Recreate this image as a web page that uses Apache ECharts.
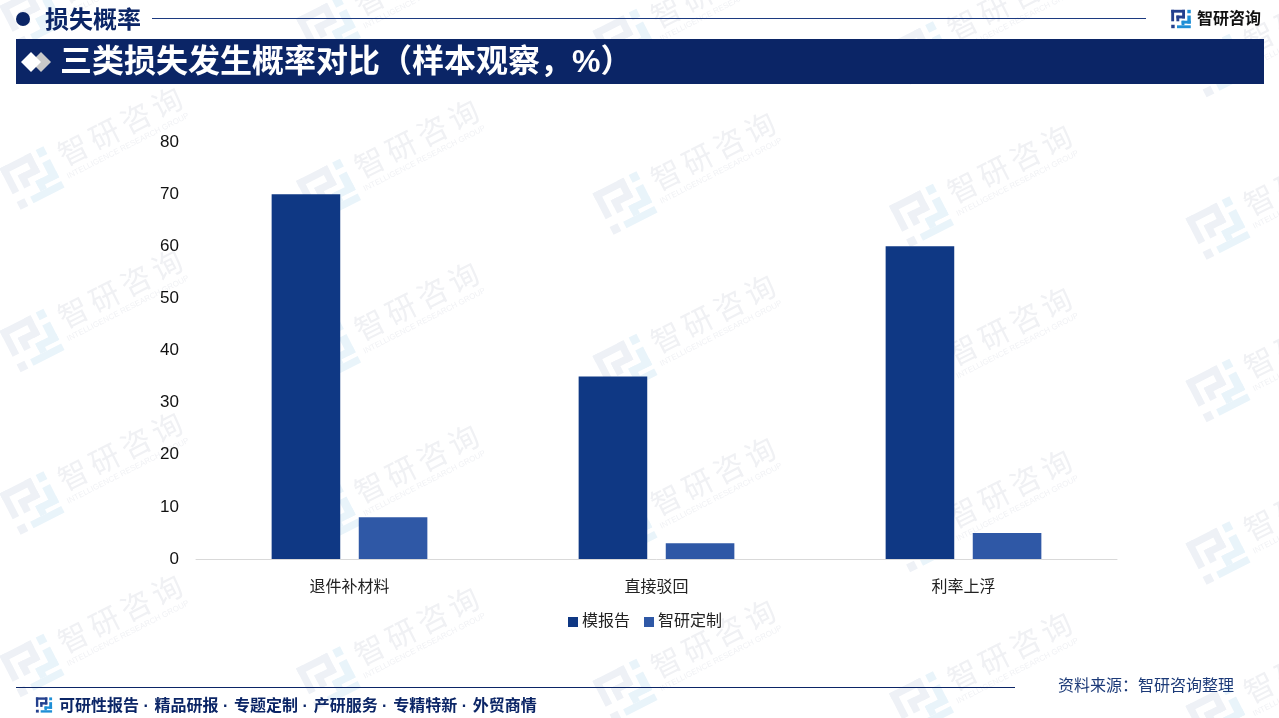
<!DOCTYPE html>
<html><head><meta charset="utf-8">
<style>html,body{margin:0;padding:0;background:#fff}#c{width:1279px;height:718px}</style>
<script src="https://cdn.jsdelivr.net/npm/echarts@6/dist/echarts.min.js"></script>
</head><body><div id="c"></div>
<script>
const categories = ['退件补材料','直接驳回','利率上浮'];
const seriesNames = ['模报告','智研定制'];
const mockReport = [70,35,60];
const customMade = [8,3,5];
const yTicks = {min:0,max:80,interval:10};
const FONT = '"Liberation Sans","Noto Sans CJK SC",sans-serif';
const NAVY='#0B2566';

function logo(cx,cy,s,rot,c1,c2){
  const r=(a,b,w,h,f)=>({type:'rect',shape:{x:(a-8.5)*s,y:(b-8)*s,width:w*s,height:h*s},style:{fill:f},silent:true});
  return {type:'group',x:cx,y:cy,rotation:rot,silent:true,children:[
    r(0,0,12,2.5,c1),r(0,0,2.5,10,c1),r(9.5,0,2.5,7.5,c1),r(4.5,5,7.5,2.5,c1),r(4.5,5,2.5,5,c1),r(0,13,3,3,c1),
    r(14,0,3,3,c2),r(14,5,3,7,c2),r(9,9.5,8,2.5,c2),r(9,9.5,2.5,4,c2),r(5,13.5,12,2.5,c2)
  ]};
}
const wm=[];
const rot=27*Math.PI/180;
for(let col=0;col<5;col++){
  for(let row=-1;row<4;row++){
    const cx=32+col*296.5, cy=178+col*12.5+row*162.5;
    wm.push(logo(cx,cy,2.9,rot,'#eef1f6','#e9f4fa'));
    ['智','研','咨','询'].forEach((ch,i)=>{
      const d=(i-1.5)*35;
      wm.push({type:'text',x:cx+88+d*Math.cos(rot),y:cy-52-d*Math.sin(rot),rotation:rot,silent:true,
        style:{text:ch,font:'30px "Noto Sans CJK SC"',fill:'#f0f1f4',align:'center',verticalAlign:'middle'}});
    });
    wm.push({type:'text',x:cx+96,y:cy-32,rotation:rot,silent:true,
      style:{text:'INTELLIGENCE RESEARCH GROUP',font:'8px "Liberation Sans"',fill:'#f1f2f5',align:'center',verticalAlign:'middle'}});
  }
}
const sep=' · \u200a';
const footerItems=['可研性报告','精品研报','专题定制','产研服务','专精特新','外贸商情'];
const header=[
  {type:'circle',shape:{cx:23,cy:19,r:7},style:{fill:NAVY}},
  {type:'text',x:45,y:21,style:{text:'损失概率',font:'bold 24px '+FONT,fill:NAVY,verticalAlign:'middle'}},
  {type:'rect',shape:{x:152,y:18,width:994,height:1},style:{fill:'#1c3a80'}},
  logo(1181,19,1.15,0,'#24408e','#1f8fd6'),
  {type:'text',x:1197,y:20,style:{text:'智研咨询',font:'bold 16px '+FONT,fill:'#111',verticalAlign:'middle'}},
  {type:'rect',shape:{x:16,y:39,width:1248,height:45},style:{fill:NAVY}},
  {type:'polygon',shape:{points:[[41,52],[51,62],[41,72],[31,62]]},style:{fill:'#c9c9c9'}},
  {type:'polygon',shape:{points:[[31,52],[41,62],[31,72],[21,62]]},style:{fill:'#fff'}},
  {type:'text',x:60,y:63,style:{text:'三类损失发生概率对比（样本观察，%）',font:'bold 32px '+FONT,fill:'#fff',verticalAlign:'middle'}},
  {type:'rect',shape:{x:16,y:687,width:999,height:1},style:{fill:NAVY}},
  logo(44,705,0.95,0,'#24408e','#1f8fd6'),
  {type:'text',x:59,y:707,style:{text:footerItems.join(sep),font:'bold 16px '+FONT,fill:NAVY,verticalAlign:'middle'}},
  {type:'text',x:1058,y:687,style:{text:'资料来源：智研咨询整理',font:'16px '+FONT,fill:'#1c3a78',verticalAlign:'middle'}}
];
const chart=echarts.init(document.getElementById('c'),null,{renderer:'canvas'});
chart.setOption({
  animation:false,backgroundColor:'#fff',
  textStyle:{fontFamily:FONT},
  grid:{left:196,right:162,top:142,bottom:159,containLabel:false},
  legend:{top:609,left:563,itemWidth:10,itemHeight:10,itemGap:14,icon:'rect',
    data:seriesNames,textStyle:{fontSize:16,color:'#222',fontFamily:FONT,padding:[0,0,0,-1]}},
  xAxis:{type:'category',data:categories,axisTick:{show:false},
    axisLine:{lineStyle:{color:'#d9d9d9',width:1}},
    axisLabel:{fontSize:16,color:'#222',margin:21,fontFamily:FONT}},
  yAxis:{type:'value',min:yTicks.min,max:yTicks.max,interval:yTicks.interval,
    axisLine:{show:false},axisTick:{show:false},splitLine:{show:false},
    axisLabel:{fontSize:17,color:'#111',margin:17,fontFamily:'"Liberation Sans",sans-serif'}},
  series:[
    {name:seriesNames[0],type:'bar',data:mockReport,barWidth:68.6,barGap:'27%',itemStyle:{color:'#0F3884'}},
    {name:seriesNames[1],type:'bar',data:customMade,barWidth:68.6,itemStyle:{color:'#2F58A6'}}
  ],
  graphic:{elements:[...wm,...header]}
});
</script></body></html>
